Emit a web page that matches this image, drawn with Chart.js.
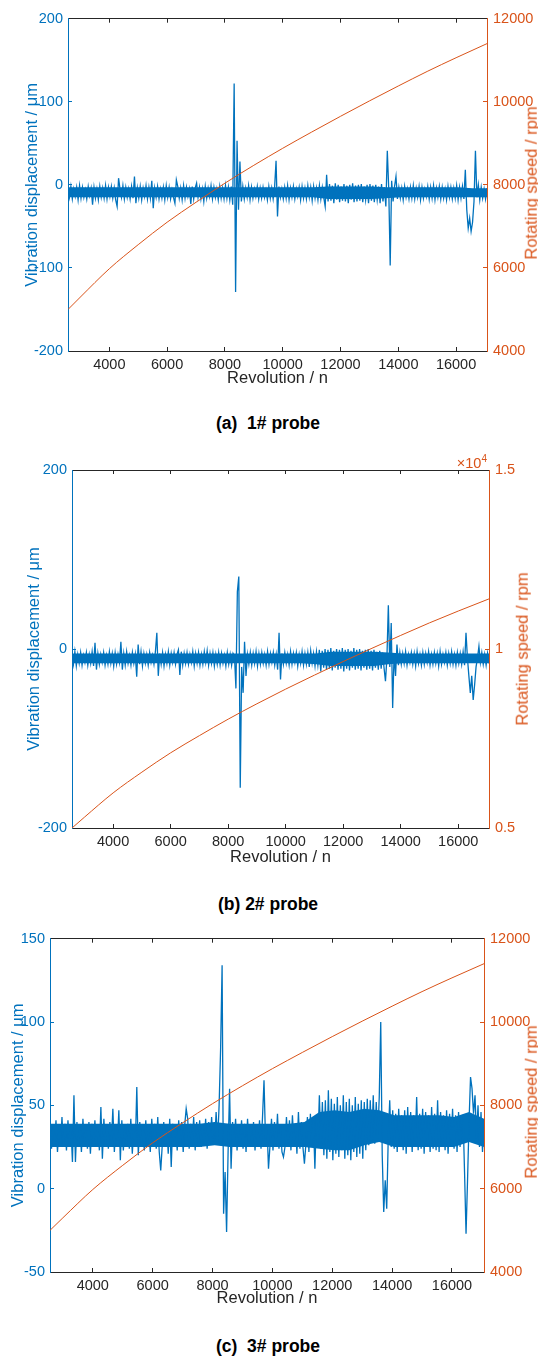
<!DOCTYPE html>
<html>
<head>
<meta charset="utf-8">
<title>Vibration displacement vs revolution</title>
<script src="https://cdn.jsdelivr.net/npm/chart.js@4.4.1/dist/chart.umd.min.js"></script>
<style>
  body { margin: 0; background: #fff; width: 538px; height: 1358px; position: relative; overflow: hidden;
         font-family: "Liberation Sans", Arial, sans-serif; }
  canvas { position: absolute; left: 0; }
  .rtitle { position: absolute; color: #D95319; font-size: 16.5px; white-space: nowrap; line-height: 1;
            transform: translate(-50%, -50%) rotate(-90deg); }
  .cap { position: absolute; font-weight: bold; font-size: 17.5px; color: #000; white-space: pre; line-height: 1;
         transform: translate(-50%, -50%); }
  .exp { position: absolute; color: #D95319; font-size: 14.5px; line-height: 1; white-space: nowrap; }
  .exp sup { font-size: 10px; vertical-align: 6px; }
</style>
</head>
<body>
<canvas id="chart1" width="538" height="400" style="top:0px"></canvas>
<canvas id="chart2" width="538" height="430" style="top:440px"></canvas>
<canvas id="chart3" width="538" height="400" style="top:920px"></canvas>

<div class="rtitle" style="left:531px; top:183px">Rotating speed / rpm</div>
<div class="rtitle" style="left:522px; top:649px">Rotating speed / rpm</div>
<div class="rtitle" style="left:531px; top:1102px">Rotating speed / rpm</div>
<div class="exp" style="right:51px; top:454px">×10<sup>4</sup></div>

<div class="cap" style="left:268px; top:424px">(a)  1# probe</div>
<div class="cap" style="left:268px; top:905px">(b) 2# probe</div>
<div class="cap" style="left:268px; top:1347px">(c)  3# probe</div>

<script>
// vibration trace, one sample every 50 revolutions starting at 2570
const sampleStart = 2570;
const sampleStep = 50;

// 1# probe (µm)
const vibP1 = [
  -4,-15,-2,-17,-5,-14,-3,-18,-1,-16,
  -3,-15,-6,-17,-2,-13,-4,-24,-3,-16,
  -5,-18,-2,-15,-4,-16,-1,-17,-3,-14,
  -2,-16,-4,-18,-26,8,-5,-15,-1,-17,
  -3,-15,-5,-17,-2,-16,10,-22,-4,-16,
  -2,-18,-4,-14,-1,-17,-3,-16,5,-28,
  -4,-15,-2,-17,-5,-16,-3,-18,-1,-15,
  -3,-17,-6,-15,-22,6,-2,-16,-4,-18,
  -1,-16,-3,-14,-5,-23,-2,-17,-4,2,
  -15,-3,-17,-5,-20,-2,-16,-4,-14,-1,
  -17,-3,-15,-5,-18,-2,-16,-4,-17,-1,
  -16,-3,-18,-2,-24,122,-129,53,-30,28,
  -20,-2,-17,-4,-15,-1,-18,-3,-16,-5,
  -14,-2,-17,-4,-16,-3,-15,-6,-18,-2,
  -16,-4,-17,-3,29,-38,-2,-15,-5,-17,
  -3,-16,-1,-18,-4,-15,-2,-17,-5,-14,
  -3,-18,-2,-16,-4,-17,-1,-15,-3,-19,
  -2,-16,-4,-18,-1,-17,-3,-15,-26,12,
  -20,1,-19,-1,-22,2,-18,0,-21,-2,
  -19,1,-20,-1,-22,0,-18,2,-21,-1,
  -20,0,-19,1,-21,-2,-18,0,-22,1,
  -19,-1,-21,0,-18,-2,-22,1,-20,-3,
  -26,41,-5,-97,5,-20,-2,10,-17,-3,
  -16,-4,-18,-2,-15,-5,-17,-3,-16,-1,
  -17,-4,-15,-2,-18,-3,-16,-5,-14,-2,
  -17,-3,-16,-1,-18,-4,-15,-2,-17,-3,
  -16,-5,-18,-2,-15,-3,-17,-4,-16,-1,
  -18,-3,-16,-2,-17,18,-30,-52,-40,-56,
  -45,-20,41,-15,0,-18,-3,-16,-5,-17,
  -4
];

// 2# probe (µm)
const vibP2 = [
  -5,-17,-3,-19,-6,-16,-4,-18,-7,-15,
  -4,-18,-6,-16,-3,-19,7,-23,-5,-17,
  -6,-15,-4,-18,-7,-17,-3,-16,-5,-19,
  -4,-17,-6,-15,8,-23,-5,-18,-3,-16,
  -7,-18,-4,-16,-6,-31,5,-17,-3,-19,
  -5,-16,-6,-18,-4,-15,-7,-17,-3,18,
  -30,-5,-17,-4,-19,-6,-16,-3,-18,-5,
  -15,-4,-17,-6,-1,-29,-3,-18,-5,-16,
  -4,-17,-6,-15,-3,-19,-5,-16,-4,-18,
  -6,-17,-3,-15,-2,-18,-5,-16,-4,-19,
  -6,-17,-4,-18,-5,-16,-7,-19,-4,-17,
  -6,-18,-5,-8,-44,64,81,-155,-20,-49,
  8,-30,-6,-17,-4,-18,-5,-16,-3,-19,
  -5,-17,-4,-16,-6,-18,-3,-17,-5,-15,
  -4,-18,-6,-23,18,-34,-5,-17,-4,-16,
  -6,-18,-3,-17,-5,-15,-4,-19,-6,-16,
  -3,-18,-5,-17,-4,-20,-2,-16,-5,-19,
  -3,-18,-1,-25,-2,-21,0,-23,-1,-22,
  1,-24,-2,-21,0,-23,-1,-22,1,-25,
  -1,-22,0,-24,-2,-21,1,-23,-1,-22,
  0,-24,-2,-21,-1,-23,0,-22,-2,-24,
  -1,-21,-3,-23,-2,-22,-4,-21,-36,-10,
  49,-20,29,-66,-5,-30,5,-18,-4,-17,
  -5,-16,-3,-18,-6,-15,-4,-17,-5,-19,
  -3,-16,-6,-18,-4,-17,-5,-15,-3,-18,
  -6,-17,-4,-16,-5,-19,-3,-17,-6,-15,
  -4,-18,-5,-16,-3,-17,-6,-18,-4,-16,
  -5,-17,-3,-18,18,-10,-30,-49,-30,-57,
  -40,-20,-10,3,-15,-4,-17,-6,-18,-5,
  -16
];

// 3# probe (µm)
const vibP3 = [
  42,24,38,27,41,22,36,26,43,25,
  39,23,41,26,37,16,56,16,40,25,
  38,22,42,27,36,24,40,21,39,26,
  41,25,37,23,49,18,42,26,38,24,
  40,27,48,22,38,25,47,17,41,23,
  36,26,39,24,42,21,37,25,61,20,
  40,26,38,23,41,25,36,22,42,27,
  39,24,43,22,11,26,40,25,38,21,
  42,13,39,26,37,23,41,25,40,22,
  38,48,42,24,39,26,43,23,40,27,
  41,25,38,26,42,24,40,28,43,27,
  27,46,28,50,84,134,-15,10,-26,22,
  60,12,40,25,42,23,38,26,41,24,
  39,22,42,27,37,25,40,23,38,26,
  41,24,43,65,30,38,12,26,42,23,
  40,26,45,24,38,22,19,25,43,27,
  41,23,44,26,39,21,46,24,40,25,
  15,27,43,22,45,25,41,12,44,26,
  56,24,52,20,53,18,59,22,54,17,
  51,21,55,19,50,23,56,18,52,20,
  54,17,50,22,55,19,51,21,53,18,
  52,23,54,26,53,28,56,27,52,30,
  55,100,20,-14,5,-12,30,53,25,47,
  24,45,22,48,26,44,23,47,21,49,
  25,46,22,44,26,55,23,45,24,48,
  21,46,25,44,22,49,24,45,23,53,
  22,46,25,44,23,47,21,45,26,48,
  24,44,22,46,25,43,44,10,-27,5,
  40,67,60,45,56,30,50,25,46,22,
  40
];

// solid core of the noise band (upper / lower edge), every 500 revolutions
const bandRev = [2570, 3070, 3570, 4070, 4570, 5070, 5570, 6070, 6570, 7070,
  7570, 8070, 8570, 9070, 9570, 10070, 10570, 11070, 11570, 12070,
  12570, 13070, 13570, 14070, 14570, 15070, 15570, 16070, 16570, 17070];
const bandHiP1 = [-3, -3, -3, -3, -3, -3, -3, -3, -3, -3, -3, -3, -3, -3, -3, -3, -3, -3, -2, -2, -2, -2, -3, -3, -3, -3, -3, -3, -4, -4];
const bandLoP1 = [-15, -15, -15, -15, -15, -15, -15, -15, -15, -15, -15, -15, -15, -15, -15, -15, -15, -15, -17, -17, -17, -17, -16, -15, -15, -15, -15, -15, -15, -15];
const bandHiP2 = [-5, -5, -5, -5, -5, -5, -5, -5, -5, -5, -5, -5, -5, -5, -5, -5, -5, -5, -3, -3, -3, -3, -4, -5, -5, -5, -5, -5, -5, -5];
const bandLoP2 = [-16, -16, -16, -16, -16, -16, -16, -16, -16, -16, -16, -16, -16, -16, -16, -16, -16, -17, -19, -19, -19, -19, -17, -16, -16, -16, -16, -16, -16, -16];
const bandHiP3 = [39, 39, 39, 39, 39, 39, 39, 39, 39, 39, 39, 40, 39, 39, 39, 39, 39, 40, 46, 47, 46, 48, 47, 44, 44, 44, 44, 43, 46, 42];
const bandLoP3 = [25, 25, 25, 25, 25, 25, 25, 25, 25, 25, 25, 26, 25, 25, 25, 25, 25, 25, 24, 23, 23, 26, 28, 25, 25, 25, 25, 25, 28, 25];

// rotating speed (same run in all three probes)
const speedRev = [2570, 3000, 4000, 5000, 6000, 7000, 8000, 9000, 10000, 11000, 12000, 13000, 14000, 15000, 16000, 17070];
const speedRpm = [5000, 5300, 5980, 6560, 7100, 7580, 8040, 8470, 8880, 9270, 9650, 10020, 10380, 10730, 11060, 11400];

// tick values
const revTicks = [4000, 6000, 8000, 10000, 12000, 14000, 16000];
const vibTicksP1 = [-200, -100, 0, 100, 200];
const vibTicksP2 = [-200, 0, 200];
const vibTicksP3 = [-50, 0, 50, 100, 150];
const speedTicksP1 = [4000, 6000, 8000, 10000, 12000];
const speedTicksP2 = [5000, 10000, 15000];
const speedTicksP3 = [4000, 6000, 8000, 10000, 12000];

const revMin = 2570;
const revMax = 17070;

const blue = "#0072BD";
const orange = "#D95319";
const gray = "#262626";
const fontFamily = "'Liberation Sans', Arial, sans-serif";
const tickFont = { family: fontFamily, size: 14.5 };
const titleFont = { family: fontFamily, size: 16.5 };

function setTicks(values) {
  return (s) => { s.ticks = values.map((v) => ({ value: v })); };
}

function pairs(xs, ys) {
  return ys.map((y, i) => ({ x: xs[i], y: y }));
}

function makePanel(p) {
  const ctx = document.getElementById(p.id).getContext("2d");
  const vibData = p.vib.map((v, i) => ({ x: sampleStart + i * sampleStep, y: v }));
  const canvasW = 538;

  new Chart(ctx, {
    type: "line",
    data: {
      datasets: [
        {
          // band core, filled down to the next dataset
          label: "band top",
          data: pairs(bandRev, p.bandHi),
          yAxisID: "y",
          borderColor: "rgba(0,0,0,0)",
          borderWidth: 0,
          backgroundColor: blue,
          fill: "+1",
          pointRadius: 0,
          order: 3,
        },
        {
          label: "band bottom",
          data: pairs(bandRev, p.bandLo),
          yAxisID: "y",
          borderColor: "rgba(0,0,0,0)",
          borderWidth: 0,
          pointRadius: 0,
          fill: false,
          order: 3,
        },
        {
          label: "Vibration displacement",
          data: vibData,
          yAxisID: "y",
          borderColor: blue,
          borderWidth: 1.3,
          pointRadius: 0,
          fill: false,
          order: 2,
        },
        {
          label: "Rotating speed",
          data: pairs(speedRev, speedRpm),
          yAxisID: "y1",
          borderColor: orange,
          borderWidth: 1,
          pointRadius: 0,
          fill: false,
          cubicInterpolationMode: "monotone",
          order: 1,
        },
      ],
    },
    options: {
      responsive: false,
      animation: false,
      events: [],
      layout: { padding: { top: p.plotTop, left: 0, right: 0, bottom: 0 } },
      plugins: { legend: { display: false }, tooltip: { enabled: false } },
      scales: {
        x: {
          type: "linear",
          position: "bottom",
          min: revMin,
          max: revMax,
          afterBuildTicks: setTicks(revTicks),
          afterFit: (s) => { s.height = p.canvasH - p.plotBottom; },
          ticks: {
            autoSkip: false,
            maxRotation: 0,
            color: gray,
            font: tickFont,
            padding: 9,
            callback: (v) => String(v),
          },
          grid: { drawOnChartArea: false, tickLength: -4, color: gray },
          border: { color: gray },
          title: { display: true, text: "Revolution / n", color: gray, font: titleFont, padding: { top: 0, bottom: p.xTitleGap } },
        },
        x2: {
          type: "linear",
          position: "top",
          min: revMin,
          max: revMax,
          afterBuildTicks: setTicks(revTicks),
          afterFit: (s) => { s.height = 0; },
          ticks: { display: false },
          grid: { drawOnChartArea: false, tickLength: -4, color: gray },
          border: { color: gray },
        },
        y: {
          position: "left",
          min: p.yMin,
          max: p.yMax,
          afterBuildTicks: setTicks(p.yTicks),
          afterFit: (s) => { s.width = p.plotLeft; },
          ticks: { autoSkip: false, color: blue, font: tickFont, padding: 9, callback: (v) => String(v) },
          grid: { drawOnChartArea: false, tickLength: -4, color: blue },
          border: { color: blue },
          title: { display: true, text: "Vibration displacement / μm", color: blue, font: titleFont, padding: { top: p.yTitleGap, bottom: 0 } },
        },
        y1: {
          position: "right",
          min: p.rMin,
          max: p.rMax,
          afterBuildTicks: setTicks(p.rTicks),
          afterFit: (s) => { s.width = canvasW - p.plotRight; },
          ticks: { autoSkip: false, color: orange, font: tickFont, padding: 10, callback: (v) => String(v / p.rDiv) },
          grid: { drawOnChartArea: false, tickLength: -4, color: orange },
          border: { color: orange },
        },
      },
    },
  });
}

document.addEventListener("DOMContentLoaded", function () {
  makePanel({ id: "chart1", vib: vibP1, bandHi: bandHiP1, bandLo: bandLoP1, canvasH: 400, plotTop: 15, plotBottom: 351, plotLeft: 68, plotRight: 487,
    yMin: -200, yMax: 200, yTicks: vibTicksP1, rMin: 4000, rMax: 12000, rTicks: speedTicksP1, rDiv: 1, yTitleGap: 23, xTitleGap: 12 });
  makePanel({ id: "chart2", vib: vibP2, bandHi: bandHiP2, bandLo: bandLoP2, canvasH: 430, plotTop: 30, plotBottom: 388, plotLeft: 72, plotRight: 489,
    yMin: -200, yMax: 200, yTicks: vibTicksP2, rMin: 5000, rMax: 15000, rTicks: speedTicksP2, rDiv: 10000, yTitleGap: 25, xTitleGap: 3 });
  makePanel({ id: "chart3", vib: vibP3, bandHi: bandHiP3, bandLo: bandLoP3, canvasH: 400, plotTop: 13, plotBottom: 352, plotLeft: 50, plotRight: 484,
    yMin: -50, yMax: 150, yTicks: vibTicksP3, rMin: 4000, rMax: 12000, rTicks: speedTicksP3, rDiv: 1, yTitleGap: 9, xTitleGap: 12 });
});
</script>
</body>
</html>
